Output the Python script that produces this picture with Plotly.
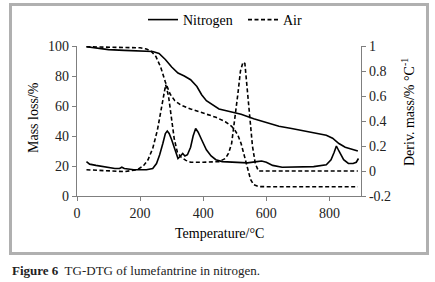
import plotly.graph_objects as go

# ---- data ----
n2_tg_T = [30, 60, 100, 150, 200, 240, 260, 280, 300, 320, 340, 360, 380, 395, 410, 430, 450, 480, 520, 560, 600, 640, 680, 720, 760, 790, 810, 830, 850, 870, 890]
n2_tg_M = [99.5, 98.5, 97.6, 97.1, 96.8, 96.3, 95, 91, 86, 82, 80, 77.5, 73, 67.5, 63.5, 60.5, 58, 56.5, 54.5, 51.5, 49, 46.5, 45, 43.5, 42, 40.5, 38.5, 35, 32.5, 31, 30]

air_tg_T = [30, 100, 150, 200, 220, 235, 250, 265, 280, 295, 310, 330, 360, 400, 440, 470, 490, 500, 510, 520, 530, 540, 550, 560, 575, 600, 890]
air_tg_M = [99.5, 99.3, 99.2, 98.8, 98, 96.5, 93, 86, 76, 68, 63.5, 60.5, 58, 55.5, 52.5, 49.5, 46.5, 44, 40.5, 35, 27, 18, 11, 7.5, 6.3, 6.2, 6.2]

air_dtg_T = [30, 100, 150, 190, 210, 225, 240, 255, 268, 281, 290, 298, 308, 318, 330, 345, 360, 400, 450, 470, 480, 490, 500, 510, 518, 526, 532, 540, 548, 556, 565, 575, 890]
air_dtg_D = [0.01, 0.0, -0.005, 0.01, 0.04, 0.09, 0.18, 0.33, 0.5, 0.69, 0.6, 0.45, 0.26, 0.15, 0.11, 0.085, 0.07, 0.07, 0.075, 0.1, 0.14, 0.22, 0.4, 0.62, 0.8, 0.87, 0.86, 0.65, 0.4, 0.2, 0.06, 0.0, 0.0]

n2_dtg_T = [30, 40, 60, 90, 120, 135, 142, 150, 180, 220, 240, 252, 262, 272, 280, 286, 292, 300, 310, 320, 328, 335, 342, 350, 360, 368, 376, 384, 395, 410, 425, 440, 460, 500, 540, 570, 585, 600, 620, 650, 700, 750, 790, 805, 815, 822, 830, 845, 860, 875, 885, 892]
n2_dtg_D = [0.075, 0.055, 0.045, 0.03, 0.02, 0.02, 0.03, 0.02, 0.01, 0.01, 0.02, 0.06, 0.13, 0.22, 0.3, 0.32, 0.3, 0.25, 0.17, 0.1, 0.12, 0.14, 0.12, 0.13, 0.19, 0.28, 0.34, 0.31, 0.25, 0.17, 0.12, 0.09, 0.075, 0.07, 0.065, 0.075, 0.08, 0.07, 0.045, 0.03, 0.03, 0.035, 0.05, 0.09, 0.15, 0.2, 0.16, 0.09, 0.06, 0.06, 0.07, 0.1]

x_ticks = [0, 200, 400, 600, 800]
y_ticks = [0, 20, 40, 60, 80, 100]
y2_ticks = [-0.2, 0, 0.2, 0.4, 0.6, 0.8, 1]
y2_labels = ["-0.2", "0", "0.2", "0.4", "0.6", "0.8", "1"]

FONT = "Liberation Serif"
AX = "#7f7f7f"
DASH = "4px,2.5px"

W, H = 435, 282
L, R, T, B = 77, 74, 46, 86
PW, PH = W - L - R, H - T - B


def px_x(p):
    return (p - L) / PW


def px_y(p):
    return (H - B - p) / PH


fig = go.Figure()
fig.add_trace(go.Scatter(x=n2_tg_T, y=n2_tg_M, mode="lines", name="Nitrogen",
                         line=dict(color="black", width=1.6), legendgroup="n2"))
fig.add_trace(go.Scatter(x=n2_dtg_T, y=n2_dtg_D, mode="lines", name="Nitrogen", yaxis="y2",
                         line=dict(color="black", width=1.6), legendgroup="n2", showlegend=False))
fig.add_trace(go.Scatter(x=air_tg_T, y=air_tg_M, mode="lines", name="Air",
                         line=dict(color="black", width=1.6, dash=DASH), legendgroup="air"))
fig.add_trace(go.Scatter(x=air_dtg_T, y=air_dtg_D, mode="lines", name="Air", yaxis="y2",
                         line=dict(color="black", width=1.6, dash=DASH), legendgroup="air", showlegend=False))

axis_common = dict(showgrid=False, zeroline=False, showline=True, linecolor=AX, linewidth=1.3,
                   ticks="outside", ticklen=4, tickcolor=AX, tickwidth=1.3, automargin=False,
                   tickfont=dict(family=FONT, size=14, color="#222"))

fig.update_layout(
    width=W, height=H,
    margin=dict(l=L, r=R, t=T, b=B, autoexpand=False),
    paper_bgcolor="white", plot_bgcolor="white",
    font=dict(family=FONT, size=14, color="black"),
    xaxis=dict(range=[0, 900], tickvals=x_ticks, **axis_common),
    yaxis=dict(range=[0, 100], tickvals=y_ticks, **axis_common),
    yaxis2=dict(range=[-0.2, 1], tickvals=y2_ticks, ticktext=y2_labels, overlaying="y", side="right",
                anchor="x", **axis_common),
    legend=dict(orientation="h", x=px_x(143), xanchor="left", y=px_y(20), yanchor="middle",
                font=dict(family=FONT, size=14, color="black"), bgcolor="rgba(0,0,0,0)",
                itemwidth=30, tracegroupgap=0, entrywidth=55),
    showlegend=True,
)

ann_font = dict(family=FONT, size=14, color="black")
fig.add_annotation(text="Mass loss/%", xref="paper", yref="paper", x=px_x(33), y=px_y(118),
                   textangle=-90, showarrow=False, xanchor="center", yanchor="middle", font=ann_font)
fig.add_annotation(text="Deriv. mass/% °C<sup>-1</sup>", xref="paper", yref="paper", x=px_x(408),
                   y=px_y(112), textangle=-90, showarrow=False, xanchor="center", yanchor="middle",
                   font=ann_font)
fig.add_annotation(text="Temperature/°C", xref="paper", yref="paper", x=px_x(219), y=px_y(233),
                   showarrow=False, xanchor="center", yanchor="middle", font=ann_font)
fig.add_annotation(text="<b>Figure 6</b>  TG-DTG of lumefantrine in nitrogen.", xref="paper", yref="paper",
                   x=px_x(10), y=px_y(270), showarrow=False, xanchor="left", yanchor="middle",
                   font=dict(family=FONT, size=13, color="#222"))

# outer frame (drawn as an empty bordered annotation box)
fig.add_annotation(text=" ", xref="paper", yref="paper", x=px_x(219), y=px_y(129),
                   xanchor="center", yanchor="middle", showarrow=False,
                   width=414, height=246, borderpad=0, borderwidth=2, bordercolor="#b0b0b0")
fig.add_shape(type="rect", xref="paper", yref="paper",
              x0=px_x(10), x1=px_x(428), y0=px_y(254), y1=px_y(4),
              line=dict(color="#b0b0b0", width=2), layer="above")

fig.write_html("out.html", config={"displayModeBar": False},
               post_script="document.body.style.margin='0';")
